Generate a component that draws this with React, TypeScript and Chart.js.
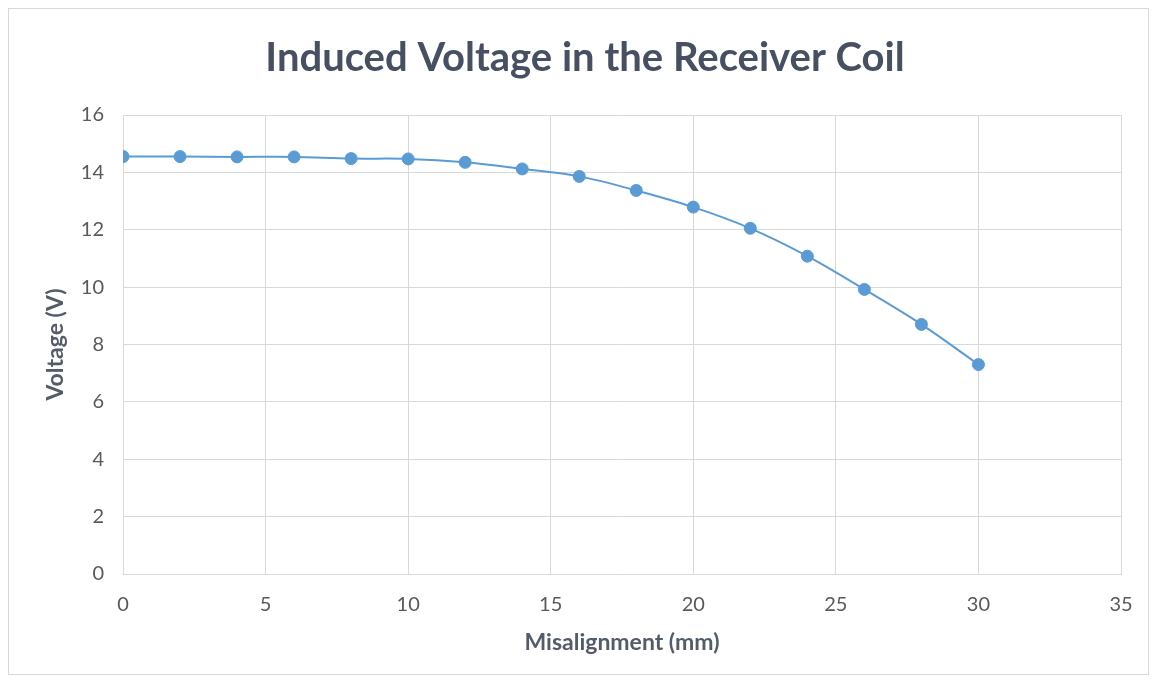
import React, { useEffect, useRef } from "react";
import { Chart, registerables } from "chart.js";

Chart.register(...registerables);

const misalignment = [0, 2, 4, 6, 8, 10, 12, 14, 16, 18, 20, 22, 24, 26, 28, 30];
const voltage = [14.55, 14.55, 14.54, 14.54, 14.48, 14.47, 14.35, 14.12, 13.86, 13.37, 12.79, 12.05, 11.08, 9.92, 8.7, 7.3];
const titleText = "Induced Voltage in the Receiver Coil";
const xTitle = "Misalignment (mm)";
const yTitle = "Voltage (V)";

const W = 1139;
const H = 665;

export default function App() {
  const ref = useRef<HTMLCanvasElement | null>(null);
  useEffect(() => {
    if (!ref.current) return;
    const chart = new Chart(ref.current, {
      type: "line",
      data: {
        datasets: [
          {
            label: "Voltage",
            data: misalignment.map((x, i) => ({ x, y: voltage[i] })),
            borderColor: "#5b9bd5",
            backgroundColor: "#5b9bd5",
            borderWidth: 2,
            pointRadius: 6,
            pointBorderWidth: 1,
            pointBackgroundColor: "#5b9bd5",
            pointBorderColor: "#5b9bd5",
            tension: 0.35,
            fill: false,
          },
        ],
      },
      options: {
        responsive: false,
        animation: false,
        layout: { padding: { left: 13, right: 0, top: 0, bottom: 0 } },
        plugins: {
          legend: { display: false },
          tooltip: { enabled: false },
          title: {
            display: true,
            text: titleText,
            color: "#465062",
            font: { family: "Lato", size: 40, weight: "bold", lineHeight: 1.2 },
            padding: { top: 25, bottom: 33 },
          },
        },
        scales: {
          x: {
            type: "linear",
            min: 0,
            max: 35,
            afterFit: (s: any) => {
              s.height = 100;
              s.paddingLeft = 0;
              s.paddingRight = 27;
            },
            ticks: {
              stepSize: 5,
              color: "#595959",
              font: { family: "Lato", size: 20 },
              padding: 19,
              maxRotation: 0,
            },
            grid: { color: "#d9d9d9", drawTicks: false, lineWidth: 1 },
            border: { color: "#d9d9d9" },
            title: {
              display: true,
              text: xTitle,
              color: "#545c6a",
              font: { family: "Lato", size: 23, weight: "bold", lineHeight: 1.2 },
              padding: { top: 0, bottom: 18 },
            },
          },
          y: {
            type: "linear",
            min: 0,
            max: 16,
            afterFit: (s: any) => {
              s.width = 101;
            },
            ticks: {
              stepSize: 2,
              color: "#595959",
              font: { family: "Lato", size: 20 },
              padding: 19,
            },
            grid: { color: "#d9d9d9", drawTicks: false, lineWidth: 1 },
            border: { color: "#d9d9d9" },
            title: {
              display: true,
              text: yTitle,
              color: "#545c6a",
              font: { family: "Lato", size: 23, weight: "bold", lineHeight: 1.2 },
              padding: { top: 20, bottom: 0 },
            },
          },
        },
      },
    });
    return () => chart.destroy();
  }, []);
  return (
    <div style={{ width: W, height: H, border: "1px solid #d9d9d9", background: "#fff" }}>
      <canvas ref={ref} width={W} height={H} style={{ display: "block" }} />
    </div>
  );
}
